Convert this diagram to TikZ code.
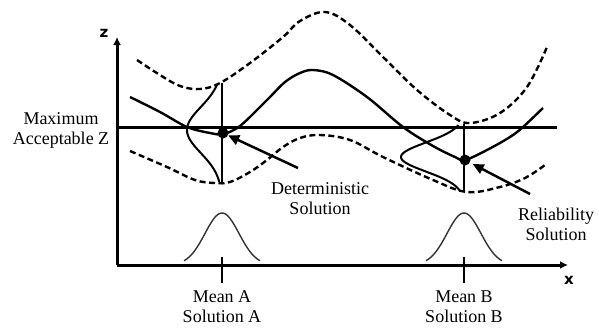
\documentclass[tikz,border=0pt]{standalone}
\usepackage{fontspec}
\setmainfont{Liberation Serif}
\setsansfont{DejaVu Sans}
\usetikzlibrary{arrows.meta}

\begin{document}
\begin{tikzpicture}[
  x=1pt, y=-1pt,
  font=\fontsize{18}{20}\selectfont,
  axis/.style={line width=3pt, -{Latex[length=8pt, width=8pt]}},
  limit/.style={line width=3pt},
  meancurve/.style={line width=2.4pt, line join=round},
  bound/.style={line width=2.4pt, dash pattern=on 6pt off 3.5pt},
  pdfz/.style={line width=2pt},
  pdfx/.style={line width=1.4pt, black!80},
  stem/.style={line width=2.2pt},
  tick/.style={line width=2.6pt},
  dotnode/.style={circle, fill, inner sep=0pt, minimum size=11pt},
  pointer/.style={line width=2.5pt, -{Triangle[length=11pt, width=10pt]}},
  txt/.style={align=center, inner sep=0pt},
  axlabel/.style={inner sep=0pt, font=\sffamily\bfseries\fontsize{15}{15}\selectfont},
]
\useasboundingbox (0,0) rectangle (599,327);

% design points (pixel coordinates, y down)
\pgfmathsetmacro{\xA}{222}
\pgfmathsetmacro{\xB}{464}
\pgfmathsetmacro{\zMax}{127}

% ---- axes ----
\coordinate (origin) at (117,265);
\coordinate (zTop) at (117,37);
\coordinate (xEnd) at (568,265);
\draw[axis] (origin) -- (zTop);
\draw[axis] (origin) -- (xEnd);
\node[axlabel] (zLab) at (104,33) {z};
\node[axlabel] (xLab) at (569,280) {x};

% ---- maximum acceptable z ----
\coordinate (limL) at (117,\zMax);
\coordinate (limR) at (557,\zMax);
\draw[limit] (limL) -- (limR);
\node[txt] (limLab) at (61,130) {Maximum\\Acceptable Z};

% ---- bounds (dashed) ----
\draw[bound] plot[smooth, tension=0.6] coordinates {
  (137,60) (160,75) (180,86) (200,89) (220,83) (250,63) (283,37) (300,21)
  (325,12) (350,25) (383,57) (417,90) (450,115) (470,123) (500,113)
  (527,87) (547,47)};
\draw[bound] plot[smooth, tension=0.6] coordinates {
  (130,151) (167,167) (195,180) (215,183) (230,182) (250,172) (267,160)
  (283,147) (300,138) (320,135) (350,140) (383,157) (433,180) (467,192)
  (500,187) (525,178) (545,165)};

% ---- mean response ----
\draw[meancurve] plot[smooth, tension=0.55] coordinates {
  (130,97) (160,112) (187,127) (210,133) (223,134) (240,126) (267,100)
  (285,82) (300,73) (313,70) (333,75) (367,97) (403,127) (433,146)
  (455,157) (465,160) (487,150) (510,137) (523,127) (543,108)};

% ---- z distributions at solutions A and B ----
\draw[stem] (\xA,83) -- (\xA,183);
\draw[stem] (\xB,124) -- (\xB,192);
\draw[pdfz] plot[domain=84:182, samples=60, smooth]
  ({\xA-35*exp(-((\x-130)/23)^2/2)}, \x);
\draw[pdfz] plot[domain=125:191, samples=60, smooth]
  ({\xB-63*exp(-((\x-157)/14.5)^2/2)}, \x);

% ---- solutions ----
\node[dotnode] (dotA) at (223,133) {};
\node[dotnode] (dotB) at (465,160) {};

\coordinate (detTail) at (298,168);
\coordinate (relTail) at (530,194);
\draw[pointer] (detTail) -- (dotA);
\draw[pointer, shorten >=3pt] (relTail) -- (dotB);
\node[txt] (detLab) at (320,199) {Deterministic\\Solution};
\node[txt] (relLab) at (556,224) {Reliability\\Solution};

% ---- x distributions and means ----
\foreach \m/\n in {\xA/A, \xB/B}{
  \draw[pdfx] plot[domain=-38:38, samples=50, smooth]
    ({\m+\x}, {265-52*exp(-(\x/17)^2/2)});
  \draw[tick] (\m,257) -- (\m,283);
  \node[txt] (mean\n) at (\m,307) {Mean \n\\Solution \n};
}

\end{tikzpicture}
\end{document}
